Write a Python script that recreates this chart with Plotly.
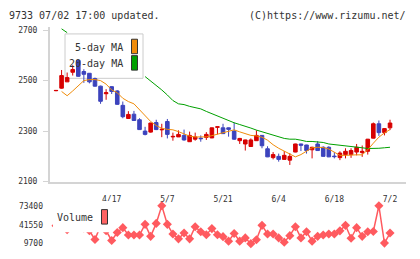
import plotly.graph_objects as go

# ---------------- data ----------------
dates = ["04/03", "04/04", "04/07", "04/08", "04/09", "04/10", "04/11", "04/14", "04/15", "04/16",
         "04/17", "04/18", "04/21", "04/22", "04/23", "04/24", "04/25", "04/28", "04/30", "05/01",
         "05/07", "05/08", "05/09", "05/12", "05/13", "05/14", "05/15", "05/16", "05/19", "05/20",
         "05/21", "05/22", "05/23", "05/26", "05/27", "05/28", "05/29", "05/30", "06/02", "06/03",
         "06/04", "06/05", "06/06", "06/09", "06/10", "06/11", "06/12", "06/13", "06/16", "06/17",
         "06/18", "06/19", "06/20", "06/23", "06/24", "06/25", "06/26", "06/27", "06/30", "07/01",
         "07/02"]

opens = [2460, 2470, 2495, 2533, 2580, 2536, 2529, 2508, 2478, 2448,
         2476, 2459, 2402, 2350, 2367, 2345, 2300, 2296, 2334, 2305,
         2338, 2277, 2277, 2283, 2258, 2268, 2272, 2275, 2273, 2315,
         2313, 2313, 2300, 2262, 2249, 2239, 2262, 2283, 2230, 2195,
         2200, 2188, 2185, 2217, 2249, 2245, 2226, 2249, 2236, 2236,
         2201, 2195, 2207, 2207, 2217, 2215, 2220, 2272, 2329, 2294,
         2313]
highs = [2462, 2542, 2532, 2561, 2582, 2545, 2530, 2512, 2480, 2466,
         2478, 2462, 2417, 2379, 2380, 2351, 2317, 2333, 2345, 2329,
         2348, 2294, 2303, 2306, 2298, 2294, 2283, 2296, 2314, 2317,
         2329, 2314, 2334, 2273, 2266, 2271, 2303, 2284, 2240, 2217,
         2211, 2221, 2213, 2250, 2250, 2246, 2238, 2260, 2240, 2240,
         2217, 2220, 2232, 2232, 2249, 2243, 2269, 2334, 2342, 2312,
         2345]
lows = [2458, 2468, 2495, 2520, 2515, 2491, 2489, 2476, 2408, 2424,
        2447, 2404, 2351, 2348, 2340, 2305, 2283, 2294, 2304, 2276,
        2271, 2262, 2277, 2262, 2257, 2262, 2258, 2265, 2272, 2287,
        2289, 2278, 2265, 2249, 2223, 2238, 2261, 2232, 2197, 2188,
        2179, 2187, 2166, 2216, 2221, 2211, 2192, 2222, 2199, 2197,
        2192, 2185, 2192, 2194, 2204, 2198, 2207, 2271, 2281, 2283,
        2304]
closes = [2461, 2520, 2512, 2544, 2517, 2525, 2495, 2478, 2418, 2452,
          2457, 2406, 2357, 2366, 2342, 2306, 2287, 2332, 2306, 2307,
          2287, 2279, 2287, 2265, 2283, 2277, 2270, 2287, 2313, 2317,
          2290, 2307, 2268, 2271, 2265, 2265, 2283, 2242, 2198, 2207,
          2188, 2204, 2200, 2249, 2244, 2223, 2236, 2223, 2200, 2198,
          2199, 2213, 2220, 2223, 2236, 2220, 2268, 2329, 2294, 2310,
          2332]

ma5 = [None, 2457, 2440, 2459, 2481, 2500, 2504, 2504, 2500, 2486,
       2463, 2452, 2430, 2417, 2408, 2384, 2362, 2338, 2322, 2311,
       2307, 2305, 2298, 2289, 2280, 2277, 2277, 2277, 2282, 2288,
       2295, 2299, 2305, 2297, 2289, 2283, 2281, 2276, 2264, 2246,
       2232, 2221, 2208, 2198, 2207, 2222, 2234, 2236, 2235, 2229,
       2216, 2204, 2204, 2206, 2206, 2206, 2226, 2252, 2276, 2293,
       2306]
# values under the legend box cannot be read -> left empty
ma20 = [None, 2705, 2690, None, None, None, None, None, None, None,
        None, None, None, None, None, None, 2516, 2499, 2481, 2463,
        2443, 2421, 2408, 2405, 2398, 2393, 2388, 2378, 2369, 2358,
        2348, 2340, 2333, 2326, 2320, 2312, 2304, 2297, 2290, 2283,
        2276, 2271, 2268, 2268, 2264, 2259, 2259, 2256, 2255, 2249,
        2247, 2243, 2241, 2240, 2236, 2234, 2231, 2230, 2232, 2234,
        2236]

volumes = [40000, 45000, 33200, 38000, 42000, 36000, 31300, 16670, 40000, 31300,
           15050, 28500, 36610, 24290, 24290, 24290, 42120, 22020, 43740, 73400,
           42120, 25910, 17800, 27530, 17800, 38230, 29700, 24800, 35000, 24780,
           21530, 13910, 26880, 13910, 19430, 9700, 16180, 40500, 25910, 25910,
           19430, 12290, 23150, 38230, 19430, 29640, 13910, 22020, 24290, 25910,
           25910, 31260, 40500, 18780, 36610, 22020, 29640, 30120, 73400, 10670,
           27530]

tick_dates = ["04/17", "05/07", "05/21", "06/04", "06/18", "07/02"]
tick_text = ["4/17", "5/7", "5/21", "6/4", "6/18", "7/2"]
price_ticks = [2100, 2300, 2500, 2700]
vol_ticks = [9700, 41550, 73400]
vol_tick_text = ["9700", "41550", "73400"]

# ---------------- styling ----------------
W, H = 420, 259
RED = "#d70000"
BLUE = "#3c43bd"
ORANGE = "#f08c0a"
GREEN = "#00a000"
VOLC = "#ff5a5f"
AXC = "#d4d4d4"
TXT = "#333333"
MONO = "DejaVu Sans Mono"


def fx(p):
    return p / W


def fy(p):
    return 1 - p / H


x_dom = [fx(50), fx(406)]
x_rng = [-1.08, 62.87]

fig = go.Figure()
fig.add_trace(go.Candlestick(
    x=dates, open=opens, high=highs, low=lows, close=closes,
    increasing=dict(line=dict(color=RED, width=1), fillcolor=RED),
    decreasing=dict(line=dict(color=BLUE, width=1), fillcolor=BLUE),
    whiskerwidth=0, hoverinfo="skip", xaxis="x", yaxis="y"))
fig.add_trace(go.Scatter(x=dates, y=ma20, mode="lines", line=dict(color=GREEN, width=1),
                         connectgaps=False, hoverinfo="skip", xaxis="x", yaxis="y"))
fig.add_trace(go.Scatter(x=dates, y=ma5, mode="lines", line=dict(color=ORANGE, width=1),
                         hoverinfo="skip", xaxis="x", yaxis="y"))
fig.add_trace(go.Scatter(x=dates, y=volumes, mode="lines+markers",
                         line=dict(color=VOLC, width=1.5),
                         marker=dict(symbol="diamond", size=7, color=VOLC),
                         cliponaxis=False, hoverinfo="skip", xaxis="x2", yaxis="y2"))

fig.update_layout(
    width=W, height=H, margin=dict(l=0, r=0, t=0, b=0),
    paper_bgcolor="white", plot_bgcolor="rgba(0,0,0,0)",
    showlegend=False, boxgap=0.08,
    xaxis=dict(domain=x_dom, type="category", range=x_rng, anchor="y",
               tickmode="array", tickvals=tick_dates, ticktext=tick_text,
               ticks="", showline=True, linecolor=AXC, linewidth=2,
               showgrid=False, zeroline=False, rangeslider=dict(visible=False),
               tickfont=dict(family=MONO, size=8, color=TXT), ticklabelstandoff=9),
    xaxis2=dict(domain=x_dom, type="category", range=x_rng, anchor="y2", matches="x",
                showticklabels=False, ticks="", showline=False, showgrid=False, zeroline=False),
    xaxis3=dict(domain=x_dom, overlaying="x", anchor="y", range=[0, 11], tickmode="linear",
                tick0=0, dtick=1, ticks="outside", ticklen=4, tickwidth=2, tickcolor=AXC,
                showticklabels=False, showline=False, showgrid=False, zeroline=False),
    xaxis4=dict(domain=x_dom, overlaying="x", anchor="y", range=[0, 11], tickmode="linear",
                tick0=0, dtick=1, ticks="inside", ticklen=2, tickwidth=2, tickcolor=AXC,
                showticklabels=False, showline=False, showgrid=False, zeroline=False),
    yaxis=dict(domain=[fy(184), fy(23.9)], range=[2100, 2712], anchor="x",
               tickmode="array", tickvals=price_ticks, ticks="outside", ticklen=5,
               tickwidth=1, tickcolor=AXC, showline=True, linecolor=AXC, linewidth=2,
               showgrid=False, zeroline=False,
               tickfont=dict(family=MONO, size=8, color=TXT), ticklabelstandoff=4),
    yaxis3=dict(domain=[fy(184), fy(23.9)], range=[2100, 2712], overlaying="y", anchor="x",
                tickmode="array", tickvals=price_ticks, ticks="inside", ticklen=3,
                tickwidth=1, tickcolor=AXC, showticklabels=False, showline=False,
                showgrid=False, zeroline=False),
    yaxis2=dict(domain=[fy(248.3), fy(209)], range=[9700, 73400], anchor="x2",
                tickmode="array", tickvals=vol_ticks, ticktext=vol_tick_text, ticks="",
                showline=False, showgrid=False, zeroline=False,
                tickfont=dict(family=MONO, size=8, color=TXT), ticklabelstandoff=6),
)

shapes = [
    # price legend box (below traces)
    dict(type="rect", xref="paper", yref="paper", x0=fx(65), x1=fx(143), y0=fy(77), y1=fy(31),
         fillcolor="white", line=dict(color="#cccccc", width=1), layer="below"),
    dict(type="rect", xref="paper", yref="paper", x0=fx(131.5), x1=fx(137.5), y0=fy(51.5), y1=fy(36.5),
         fillcolor=ORANGE, line=dict(color="#333333", width=1), layer="above"),
    dict(type="rect", xref="paper", yref="paper", x0=fx(131.5), x1=fx(137.5), y0=fy(68.5), y1=fy(53.5),
         fillcolor=GREEN, line=dict(color="#333333", width=1), layer="above"),
    # volume legend box
    dict(type="rect", xref="paper", yref="paper", x0=fx(53), x1=fx(112), y0=fy(236.5), y1=fy(204),
         fillcolor="white", line=dict(width=0), layer="above"),
    dict(type="rect", xref="paper", yref="paper", x0=fx(101.5), x1=fx(107.5), y0=fy(228), y1=fy(213),
         fillcolor="#ff6464", line=dict(color="#333333", width=1), layer="above"),
]
fig.update_layout(shapes=shapes)

ann_font = dict(family=MONO, size=10, color=TXT)
annotations = [
    dict(text="9733 07/02 17:00 updated.", x=fx(7), y=fy(12), xref="paper", yref="paper",
         xanchor="left", yanchor="middle", showarrow=False, font=ann_font),
    dict(text="(C)https://www.rizumu.net/", x=fx(408), y=fy(12), xref="paper", yref="paper",
         xanchor="right", yanchor="middle", showarrow=False, font=ann_font),
    dict(text="5-day MA", x=fx(125), y=fy(45), xref="paper", yref="paper",
         xanchor="right", yanchor="middle", showarrow=False, font=ann_font),
    dict(text="20-day MA", x=fx(125), y=fy(62), xref="paper", yref="paper",
         xanchor="right", yanchor="middle", showarrow=False, font=ann_font),
    dict(text="Volume", x=fx(95), y=fy(221), xref="paper", yref="paper",
         xanchor="right", yanchor="middle", showarrow=False, font=ann_font),
]
fig.update_layout(annotations=annotations)

fig.write_html("out.html")
